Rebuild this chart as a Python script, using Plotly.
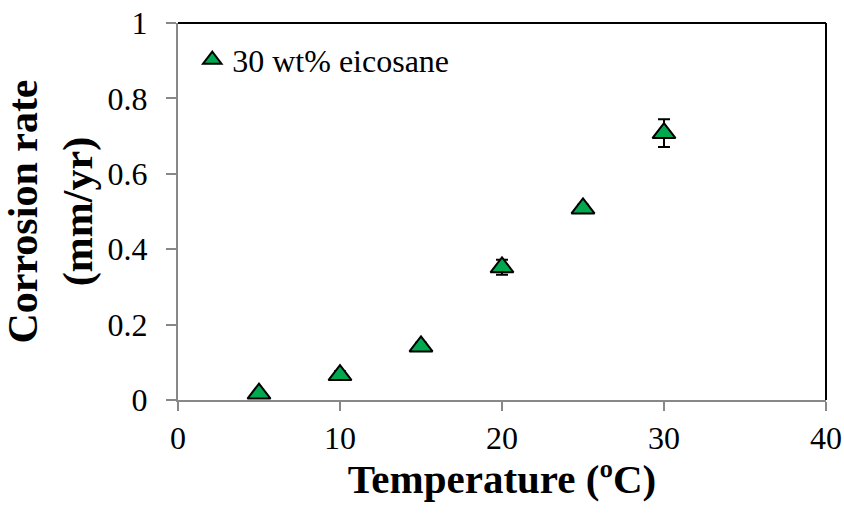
import plotly.graph_objects as go

temperature = [5, 10, 15, 20, 25, 30]
corrosion_rate = [0.017, 0.066, 0.142, 0.352, 0.508, 0.708]
error = [0.005, 0.01, 0.01, 0.02, 0.01, 0.037]
series_name = "30 wt% eicosane"
x_ticks = [0, 10, 20, 30, 40]
y_ticks = [0, 0.2, 0.4, 0.6, 0.8, 1]
y_tick_text = ["0", "0.2", "0.4", "0.6", "0.8", "1"]

FONT = "Liberation Serif"

fig = go.Figure()
fig.add_trace(go.Scatter(
    x=temperature, y=corrosion_rate, mode="markers", name=series_name,
    marker=dict(symbol="triangle-up", size=20, color="#00A84F",
                line=dict(color="black", width=2)),
    error_y=dict(type="data", array=error, visible=True, color="black",
                 thickness=2, width=6),
))

fig.update_layout(
    width=844, height=513,
    margin=dict(l=178, r=18, t=23, b=113),
    paper_bgcolor="white", plot_bgcolor="white",
    font=dict(family=FONT, size=32, color="black"),
    showlegend=True,
    legend=dict(x=0.022, y=0.975, xanchor="left", yanchor="top",
                bgcolor="rgba(0,0,0,0)", font=dict(family=FONT, size=32),
                itemwidth=30, tracegroupgap=0),
    xaxis=dict(range=[0, 40], tickvals=x_ticks, showgrid=False, zeroline=False,
               automargin=False,
               showline=True, linecolor="#888888", linewidth=2,
               ticks="outside", ticklen=9, tickcolor="#888888", tickwidth=2,
               tickfont=dict(family=FONT, size=32),
               title=dict(text="<b>Temperature (ºC)</b>", font=dict(family=FONT, size=41),
                          standoff=4)),
    yaxis=dict(range=[0, 1], tickvals=y_ticks, ticktext=y_tick_text, showgrid=False,
               automargin=False,
               zeroline=False, showline=True, linecolor="#888888", linewidth=2,
               ticks="outside", ticklen=10, tickcolor="#888888", tickwidth=2,
               ticklabelstandoff=12,
               tickfont=dict(family=FONT, size=32),
               title=dict(text="<b>Corrosion rate<br>(mm/yr)</b>",
                          font=dict(family=FONT, size=42))),
    shapes=[
        dict(type="line", xref="paper", yref="paper", x0=0, x1=1, y0=1, y1=1,
             line=dict(color="black", width=2)),
        dict(type="line", xref="paper", yref="paper", x0=1, x1=1, y0=0, y1=1,
             line=dict(color="black", width=2)),
    ],
)

fig.write_html("out.html")
